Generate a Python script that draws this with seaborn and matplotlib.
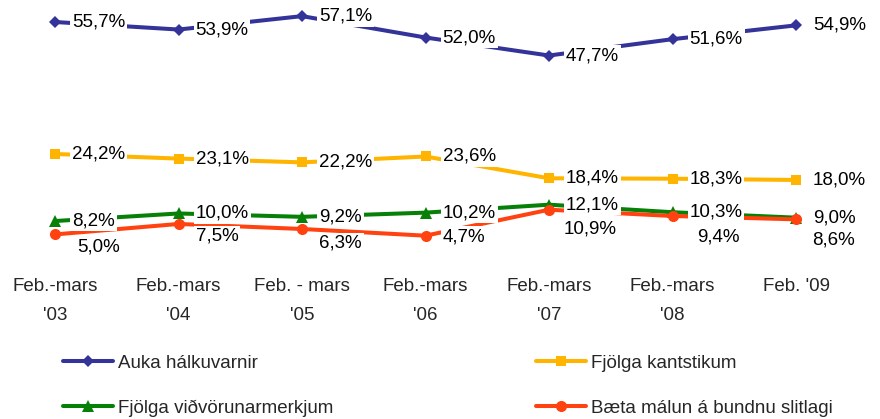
import numpy as np
import pandas as pd
import matplotlib
matplotlib.use("Agg")
import matplotlib.pyplot as plt
import seaborn as sns

# chart data
periods = ["Feb.-mars\n'03", "Feb.-mars\n'04", "Feb. - mars\n'05", "Feb.-mars\n'06",
           "Feb.-mars\n'07", "Feb.-mars\n'08", "Feb. '09"]
series_names = ["Auka hálkuvarnir", "Fjölga kantstikum",
                "Fjölga viðvörunarmerkjum", "Bæta málun á bundnu slitlagi"]
halkuvarnir = [55.7, 53.9, 57.1, 52.0, 47.7, 51.6, 54.9]
kantstikur = [24.2, 23.1, 22.2, 23.6, 18.4, 18.3, 18.0]
vidvorun = [8.2, 10.0, 9.2, 10.2, 12.1, 10.3, 9.0]
malun = [5.0, 7.5, 6.3, 4.7, 10.9, 9.4, 8.6]

# styling
colors = ["#333399", "#FFB400", "#078007", "#FF4210"]
markers = ["D", "s", "^", "o"]
msizes = [6.5, 7.5, 8, 8]
# red labels sit below their point to avoid the green ones (pixels)
red_dy = [-13, -12, -14, -1, -19, -21, -21]
red_dx = [22, 17, 17, 17, 15, 25, 16]
FS = 13.5

sns.set_style("white")
plt.rcParams["font.family"] = ["Liberation Sans", "DejaVu Sans"]

fig = plt.figure(figsize=(8.8, 4.19), dpi=100)
ax = fig.add_axes([0, 0.3905, 1, 0.6])

values = [halkuvarnir, kantstikur, vidvorun, malun]
x = np.arange(len(periods))
for name, vals, col, mk, ms in zip(series_names, values, colors, markers, msizes):
    df = pd.DataFrame({"x": x, "v": vals})
    sns.lineplot(data=df, x="x", y="v", ax=ax, color=col, marker=mk,
                 markersize=ms, markeredgewidth=0, linewidth=2.9, label=name)

for si, vals in enumerate(values):
    for i, v in enumerate(vals):
        if si == 3:
            dx, dy = red_dx[i], red_dy[i]
        else:
            dx, dy = 17, 0
        ax.annotate(f"{v:.1f}%".replace(".", ","), (i, v), xytext=(dx * 0.72, dy * 0.72),
                    textcoords="offset points", ha="left", va="center",
                    fontsize=FS, color="black",
                    bbox=dict(boxstyle="square,pad=0.1", fc="white", ec="none"))

ax.set_xlim(-55 / 123.5, -55 / 123.5 + 880 / 123.5)
ax.set_ylim(0, 60)
ax.set_xticks(x)
ax.set_xticklabels(periods, fontsize=FS, linespacing=1.95)
ax.tick_params(axis="x", length=0, pad=16)
ax.set_yticks([])
ax.set_xlabel("")
ax.set_ylabel("")
sns.despine(ax=ax, left=True, bottom=True)

h, l = ax.get_legend_handles_labels()
ax.get_legend().remove()
order = [0, 2, 1, 3]
fig.legend([h[i] for i in order], [l[i] for i in order], ncol=2,
           loc="upper left", bbox_to_anchor=(0.072, 0.153), frameon=False,
           fontsize=FS, handlelength=2.67, handletextpad=0.27,
           columnspacing=10.8, labelspacing=1.48, borderpad=0, borderaxespad=0)

fig.savefig("out.png", dpi=100)
